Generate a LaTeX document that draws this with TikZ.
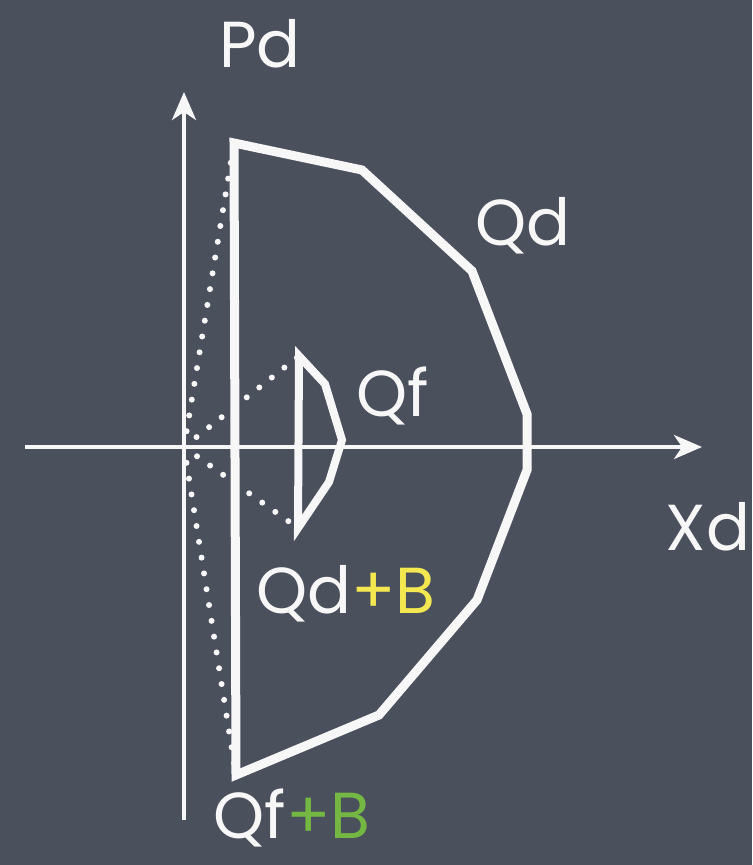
\documentclass[tikz,border=0pt]{standalone}
\usepackage{fontspec}
\setmainfont{Poppins}
\usetikzlibrary{arrows.meta, positioning, calc}
\definecolor{slateBg}{HTML}{4B505D}
\definecolor{chalkWhite}{HTML}{F7F7F7}
\definecolor{chalkYellow}{HTML}{F4E850}
\definecolor{chalkGreen}{HTML}{74B843}

\begin{document}
\begin{tikzpicture}[x=0.02cm, y=-0.02cm,
    axis/.style={draw=chalkWhite, line width=4*0.02cm,
      -{Stealth[length=28*0.02cm, width=24*0.02cm, inset=8*0.02cm]}},
    region/.style={draw=chalkWhite, line width=9*0.02cm, line join=miter},
    smallregion/.style={draw=chalkWhite, line width=8*0.02cm, line join=miter},
    dots/.style={draw=chalkWhite, line width=6*0.02cm, line cap=round,
      dash pattern=on 0pt off 16*0.02cm},
    lbl/.style={text=chalkWhite, inner sep=0pt, font=\fontsize{37}{39}\selectfont}]
    \fill[slateBg] (0,0) rectangle (752,865);
    \useasboundingbox (0,0) rectangle (752,865);

    % axes
    \coordinate (o) at (184,447);
    \coordinate (xs) at (25,447);
    \coordinate (xe) at (702,447);
    \coordinate (ys) at (184,820);
    \coordinate (ye) at (184,92);

    % outer region
    \coordinate (q1) at (234,143);
    \coordinate (q2) at (362,170);
    \coordinate (q3) at (472,271);
    \coordinate (q4) at (527,414);
    \coordinate (q5) at (527,470);
    \coordinate (q6) at (477,600);
    \coordinate (q7) at (379,715);
    \coordinate (q8) at (236,775);

    % inner region
    \coordinate (f1) at (299,356);
    \coordinate (f2) at (325,384);
    \coordinate (f3) at (342,440);
    \coordinate (f4) at (329,482);
    \coordinate (f5) at (298,528);

    \draw[dots] (o) -- (q1);
    \draw[dots] (o) -- (q8);
    \draw[dots] (o) -- (f1);
    \draw[dots] (o) -- (f5);

    \draw[axis] (xs) -- (xe);
    \draw[axis] (ys) -- (ye);

    \draw[region] (q1) -- (q2) -- (q3) -- (q4) -- (q5) -- (q6) -- (q7) -- (q8) -- cycle;
    \draw[smallregion] (f1) -- (f2) -- (f3) -- (f4) -- (f5) -- cycle;

    % labels
    \node[lbl] (pd) at (260,44) {Pd};
    \node[lbl] (xd) at (708,527) {Xd};
    \node[lbl] (qd) at (523,226) {Qd};
    \node[lbl] (qf) at (393,396) {Qf};
    \node[lbl] (qdb) at (346,594) {Qd\textcolor{chalkYellow}{+B}};
    \node[lbl] (qfb) at (292,818) {Qf\textcolor{chalkGreen}{+B}};
  \end{tikzpicture}
\end{document}
